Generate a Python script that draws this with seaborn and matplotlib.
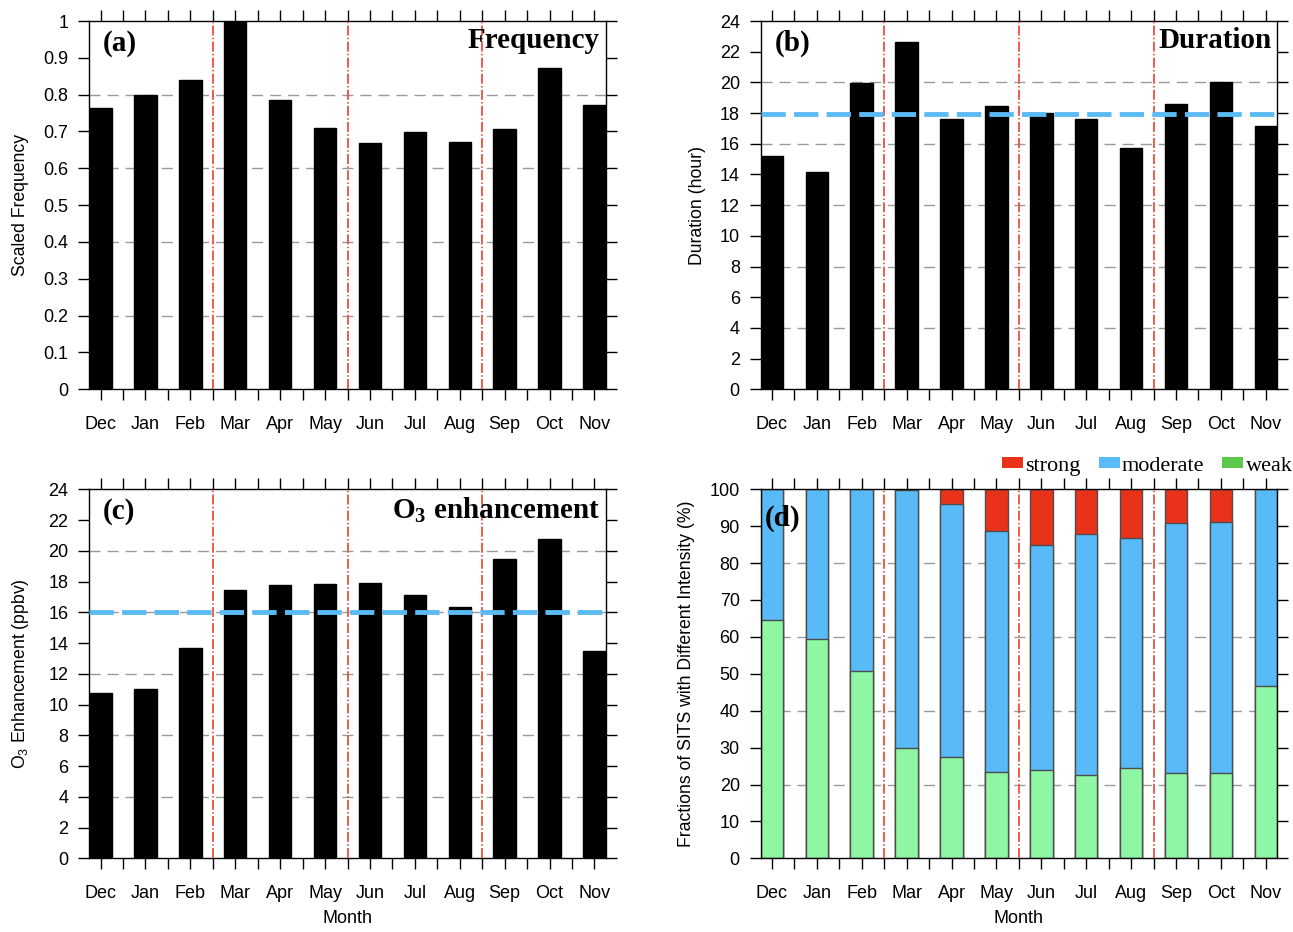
import numpy as np
import matplotlib
matplotlib.use("Agg")
import matplotlib.pyplot as plt
import matplotlib.patches as mpatches
from matplotlib.ticker import FixedLocator, FuncFormatter
import seaborn as sns

# ── Data ──────────────────────────────────────────────────────────────────────
months = ["Dec", "Jan", "Feb", "Mar", "Apr", "May",
          "Jun", "Jul", "Aug", "Sep", "Oct", "Nov"]

freq = [0.763, 0.799, 0.839, 1.0, 0.785, 0.710,
        0.670, 0.699, 0.671, 0.708, 0.873, 0.772]

duration = [15.2, 14.15, 19.95, 22.6, 17.6, 18.43,
            18.0, 17.6, 15.72, 18.59, 20.02, 17.17]
duration_mean = 17.93

o3_enh = [10.72, 11.0, 13.69, 17.44, 17.8, 17.87,
          17.93, 17.15, 16.35, 19.45, 20.79, 13.49]
o3_mean = 16.0

weak = [64.7, 59.5, 50.8, 30.0, 27.4, 23.3, 23.9, 22.5, 24.5, 23.2, 23.2, 46.8]
moderate = [35.3, 40.5, 49.2, 69.7, 68.5, 65.3, 61.0, 65.4, 62.2, 67.7, 68.0, 53.2]
strong = [0.0, 0.0, 0.0, 0.3, 4.1, 11.4, 15.1, 12.1, 13.3, 9.1, 8.8, 0.0]

# ── Style ─────────────────────────────────────────────────────────────────────
sns.set_theme(style="ticks")
plt.rcParams["font.family"] = ["Liberation Sans", "DejaVu Sans"]
plt.rcParams["mathtext.fontset"] = "custom"
plt.rcParams["mathtext.sf"] = "Liberation Sans"
plt.rcParams["mathtext.rm"] = "Liberation Sans"
plt.rcParams["mathtext.bf"] = "Liberation Serif:bold"
plt.rcParams["axes.edgecolor"] = "black"
plt.rcParams["axes.linewidth"] = 1.0
plt.rcParams["text.color"] = "black"
plt.rcParams["axes.labelcolor"] = "black"

RED_LINE = "#f04e3c"
BLUE_LINE = "#5bbaf2"
GRID = "#9a9a9a"
C_STRONG = "#e8331a"
C_MOD = "#58baf7"
C_WEAK = "#8ff7a3"
C_WEAK_LEG = "#5cc84a"
SERIF = "Liberation Serif"

W, H = 1293, 932
fig = plt.figure(figsize=(W / 100, H / 100), dpi=100)


def px_axes(x0, y0, x1, y1):
    return fig.add_axes([x0 / W, 1 - y1 / H, (x1 - x0) / W, (y1 - y0) / H])


ax_a = px_axes(89.3, 21, 605.7, 389.3)
ax_b = px_axes(760.7, 21, 1277, 389.3)
ax_c = px_axes(89.3, 489.3, 605.7, 858.3)
ax_d = px_axes(760.7, 489.3, 1277, 858.3)


def style_axis(ax, ymax, ystep, grid_vals, ylabel, label_x):
    ax.set_xlim(-0.25, 11.25)
    ax.set_ylim(0, ymax)
    ax.set_yticks(np.arange(0, ymax + ystep / 2, ystep))
    ax.yaxis.set_major_formatter(FuncFormatter(lambda v, p: f"{v:g}"))
    ax.set_xticks(range(12))
    ax.set_xticklabels(months)
    ax.xaxis.set_minor_locator(FixedLocator(np.arange(0.5, 11, 1)))
    ax.tick_params(axis="both", which="both", direction="out", length=8,
                   width=1, top=True, right=True, labelsize=13, pad=7,
                   colors="black")
    ax.tick_params(axis="x", which="both", pad=11)
    ax.tick_params(axis="y", which="minor", left=False, right=False)
    ax.set_xlabel("")
    ax.set_ylabel(ylabel, fontsize=12.7)
    ax.yaxis.set_label_coords(label_x, 0.5)
    for g in grid_vals:
        ax.axhline(g, color=GRID, lw=1, ls=(0, (8, 5)), zorder=0.5)
    for xb in [2.5, 5.5, 8.5]:
        ax.axvline(xb, color=RED_LINE, lw=1.3, ls=(0, (5.5, 1.3, 0.8, 1.3)),
                   zorder=3)


def panel_text(ax, tag, title, tag_x=0.027, tag_y=0.94, title_y=0.948):
    ax.text(tag_x, tag_y, tag, transform=ax.transAxes, fontsize=21,
            fontweight="bold", family=SERIF, ha="left", va="center", zorder=6)
    if title:
        ax.text(0.989, title_y, title, transform=ax.transAxes, fontsize=21,
                fontweight="bold", family=SERIF, ha="right", va="center",
                zorder=6)


# (a) Frequency
sns.barplot(x=months, y=freq, color="black", width=0.5, saturation=1,
            errorbar=None, edgecolor="black", ax=ax_a)
style_axis(ax_a, 1.0, 0.1, [0.2, 0.4, 0.6, 0.8], "Scaled Frequency", -0.117)
panel_text(ax_a, "(a)", "Frequency")

# (b) Duration
sns.barplot(x=months, y=duration, color="black", width=0.5, saturation=1,
            errorbar=None, edgecolor="black", ax=ax_b)
style_axis(ax_b, 24, 2, [4, 8, 12, 16, 20], "Duration (hour)", -0.106)
ax_b.axhline(duration_mean, color=BLUE_LINE, lw=3.5, ls=(0, (5, 1.7)), zorder=4)
panel_text(ax_b, "(b)", "Duration")

# (c) O3 enhancement
sns.barplot(x=months, y=o3_enh, color="black", width=0.5, saturation=1,
            errorbar=None, edgecolor="black", ax=ax_c)
style_axis(ax_c, 24, 2, [4, 8, 12, 16, 20],
           r"O$_{\mathsf{3}}$ Enhancement (ppbv)", -0.113)
ax_c.axhline(o3_mean, color=BLUE_LINE, lw=3.5, ls=(0, (5, 1.7)), zorder=4)
ax_c.set_xlabel("Month", fontsize=13)
ax_c.xaxis.set_label_coords(0.5, -0.14)
panel_text(ax_c, "(c)", r"O$_{\mathbf{3}}$ enhancement", title_y=0.943)

# (d) Fractions by intensity (stacked: draw cumulative tops, back to front)
weak_a = np.array(weak)
mod_top = weak_a + np.array(moderate)
all_top = mod_top + np.array(strong)
for vals, col in [(all_top, C_STRONG), (mod_top, C_MOD), (weak_a, C_WEAK)]:
    sns.barplot(x=months, y=vals, color=col, width=0.5, saturation=1,
                errorbar=None, edgecolor="#4d4d4d", linewidth=1, ax=ax_d)
style_axis(ax_d, 100, 10, [20, 40, 60, 80],
           "Fractions of SITS with Different Intensity (%)", -0.127)
ax_d.set_xlabel("Month", fontsize=13)
ax_d.xaxis.set_label_coords(0.5, -0.14)
panel_text(ax_d, "(d)", None, tag_x=0.008, tag_y=0.92)

handles = [mpatches.Patch(facecolor=C_STRONG, edgecolor="none", label="strong"),
           mpatches.Patch(facecolor=C_MOD, edgecolor="none", label="moderate"),
           mpatches.Patch(facecolor=C_WEAK_LEG, edgecolor="none", label="weak")]
ax_d.legend(handles=handles, ncol=3, loc="center right",
            bbox_to_anchor=(1.03, 1.063), frameon=False,
            prop={"family": SERIF, "size": 16}, handlelength=0.95,
            handleheight=0.35, handletextpad=0.1, columnspacing=0.8,
            borderaxespad=0, borderpad=0)

fig.savefig("out.png", dpi=100)
